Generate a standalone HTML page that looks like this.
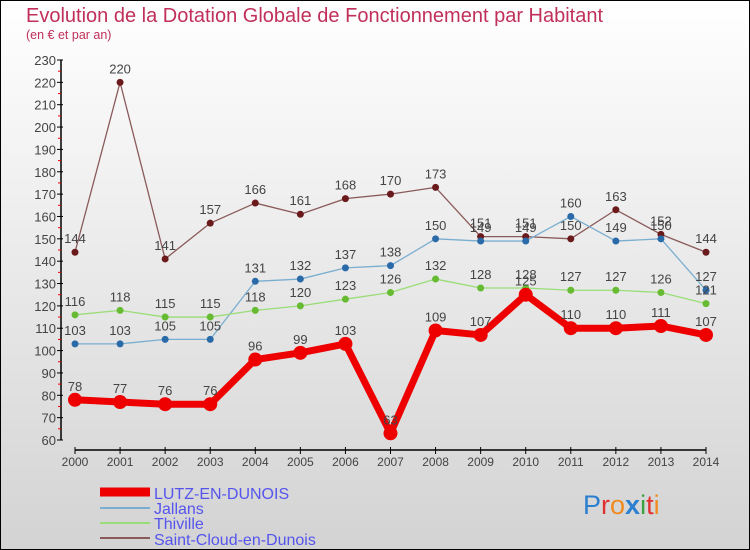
<!DOCTYPE html>
<html><head><meta charset="utf-8"><style>
body{margin:0;width:750px;height:550px;overflow:hidden}
svg{display:block;font-family:"Liberation Sans","DejaVu Sans",sans-serif}
</style></head><body>
<svg width="750" height="550" id="chart">
<defs><linearGradient id="bg" x1="0" y1="0" x2="0" y2="1"><stop offset="0" stop-color="#ffffff"/><stop offset="1" stop-color="#d3d3d3"/></linearGradient></defs>
<rect x="0.5" y="0.5" width="749" height="549" fill="url(#bg)" stroke="#000"/>
<text x="26" y="22" font-size="20" fill="#c0305a">Evolution de la Dotation Globale de Fonctionnement par Habitant</text>
<text x="26" y="39" font-size="12.5" fill="#c0305a">(en € et par an)</text>
<g id="axes"></g><g id="series"></g>
<g>
<line x1="100" y1="492" x2="150" y2="492" stroke="#ee0000" stroke-width="9"/>
<text x="154" y="499" font-size="16" fill="#5555ee">LUTZ-EN-DUNOIS</text>
<line x1="100" y1="508" x2="150" y2="508" stroke="#7aaed0" stroke-width="2"/>
<text x="154" y="514" font-size="16" fill="#5555ee">Jallans</text>
<line x1="100" y1="523" x2="150" y2="523" stroke="#99dd77" stroke-width="2"/>
<text x="154" y="529" font-size="16" fill="#5555ee">Thiville</text>
<line x1="100" y1="538" x2="150" y2="538" stroke="#8a5a5a" stroke-width="2"/>
<text x="154" y="545" font-size="16" fill="#5555ee">Saint-Cloud-en-Dunois</text>
</g>
<text x="583" y="514" font-size="27"><tspan fill="#2a7fd0">P</tspan><tspan fill="#e03030">r</tspan><tspan fill="#f08a20">o</tspan><tspan fill="#2a7fd0" font-weight="bold">x</tspan><tspan fill="#3aa040">i</tspan><tspan fill="#e03030">t</tspan><tspan fill="#f08a20">i</tspan></text>
</svg>
<script>
const years=[2000,2001,2002,2003,2004,2005,2006,2007,2008,2009,2010,2011,2012,2013,2014];
const yTicks=[60,70,80,90,100,110,120,130,140,150,160,170,180,190,200,210,220,230];
const saintCloud=[144,220,141,157,166,161,168,170,173,151,151,150,163,152,144];
const jallans=[103,103,105,105,131,132,137,138,150,149,149,160,149,150,127];
const thiville=[116,118,115,115,118,120,123,126,132,128,128,127,127,126,121];
const lutz=[78,77,76,76,96,99,103,63,109,107,125,110,110,111,107];
const NS="http://www.w3.org/2000/svg";
function X(i){return 75+i*(706-75)/14;}
function Y(v){return 440-(v-60)*380/170;}
function mk(t,a,p){const e=document.createElementNS(NS,t);for(const k in a)e.setAttribute(k,a[k]);p.appendChild(e);return e;}
const ax=document.getElementById('axes');
let yl=mk('line',{x1:61,y1:Y(230),x2:61,y2:Y(60),stroke:'#000','stroke-width':1.5},ax);


yTicks.forEach((v,k)=>{
 mk('line',{x1:57,y1:Y(v),x2:63,y2:Y(v),stroke:'#000'},ax);
 if(k<yTicks.length-1)mk('line',{x1:58,y1:Y(v+5),x2:61,y2:Y(v+5),stroke:'#e00'},ax);
 const t=mk('text',{x:56,y:Y(v)+5,'font-size':13,'text-anchor':'end',fill:'#444'},ax);t.textContent=v;
 
 
});
let xl=mk('line',{x1:75,y1:450,x2:706,y2:450,stroke:'#000','stroke-width':1.5},ax);


years.forEach((y,i)=>{
 mk('line',{x1:X(i),y1:447,x2:X(i),y2:454,stroke:'#000'},ax);
 const t=mk('text',{x:X(i),y:466,'font-size':12,'text-anchor':'middle',fill:'#444'},ax);t.textContent=y;
 
 
});
const sg=document.getElementById('series');
function draw(vals,color,dot,w,r,name){
 const g=mk('g',{},sg);
 
 
 mk('polyline',{points:vals.map((v,i)=>X(i)+','+Y(v)).join(' '),fill:'none',stroke:color,'stroke-width':w,'stroke-linejoin':'round'},g);
 vals.forEach((v,i)=>{
  const c=mk('circle',{cx:X(i),cy:Y(v),r:r,fill:dot},g);
  
  
  const t=mk('text',{x:X(i),y:Y(v)-9,'font-size':13,'text-anchor':'middle',fill:'#444'},g);t.textContent=v;
 });
}
draw(saintCloud,'#8a5a5a','#6a1a1a',1.3,3.5,'series-saint-cloud');
draw(jallans,'#7aaed0','#2a6aa8',1.3,3.5,'series-jallans');
draw(thiville,'#99dd77','#66bb33',1.3,3.5,'series-thiville');
draw(lutz,'#ee0000','#ee0000',7,7,'series-lutz');
</script>
</body></html>
